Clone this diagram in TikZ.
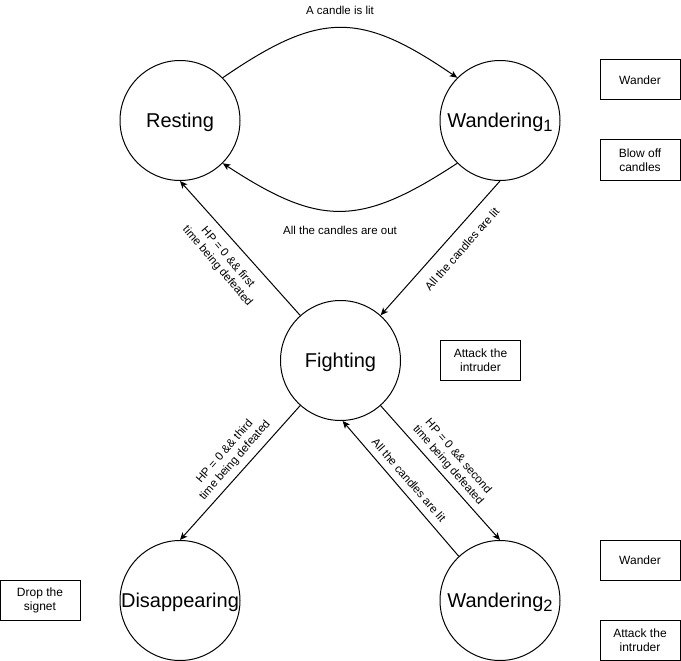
\documentclass[tikz,border=0pt]{standalone}
\usepackage{fontspec}
\setmainfont{Liberation Sans}
\usetikzlibrary{arrows.meta}
\begin{document}
\begin{tikzpicture}[x=1pt,y=-1pt,
  state/.style={circle, draw, line width=1pt, minimum size=120pt, inner sep=0pt, text depth=0pt, font=\fontsize{20}{24}\selectfont},
  act/.style={draw, line width=1pt, minimum width=80pt, minimum height=40pt, inner sep=0pt, align=center, font=\fontsize{12}{14}\selectfont},
  lbl/.style={align=center, inner sep=0pt, font=\fontsize{11.5}{13.5}\selectfont},
  edge/.style={line width=1pt, -{Stealth[length=7.5pt,width=6.5pt,inset=2pt]}}]
\useasboundingbox (0,0) rectangle (681,661);

% states
\node[state] (rest) at (180,120.5) {Resting};
\node[state] (w1) at (500,120.5) {Wandering\raisebox{-4pt}{\fontsize{16.5}{16.5}\selectfont 1}};
\node[state] (fight) at (340.5,360.5) {Fighting};
\node[state] (dis) at (180,600.5) {Disappearing};
\node[state] (w2) at (500,600.5) {Wandering\raisebox{-4pt}{\fontsize{16.5}{16.5}\selectfont 2}};

% activity boxes
\node[act] (a1) at (640,80) {Wander};
\node[act] (a2) at (640,160) {Blow off\\candles};
\node[act] (a3) at (480.5,360.5) {Attack the\\intruder};
\node[act] (a4) at (40,600) {Drop the\\signet};
\node[act] (a5) at (640,560) {Wander};
\node[act] (a6) at (640,640) {Attack the\\intruder};

% transitions
\draw[edge] (rest.45) .. controls (320,11) and (360,11) .. (w1.135);
\draw[edge] (w1.225) .. controls (360,227) and (320,227) .. (rest.315);
\draw[edge] (w1.south) -- (fight);
\draw[edge] (fight) -- (rest.south);
\draw[edge] (fight) -- (dis.north);
\draw[edge] (fight) -- (w2.north);
\draw[edge] (w2.133) -- (fight.-88);

% transition labels
\node[lbl] (l1) at (340,10) {A candle is lit};
\node[lbl] (l2) at (340,230.5) {All the candles are out};
\node[lbl, rotate=48.7] (l3) at (462,249) {All the candles are lit};
\node[lbl, rotate=-49.7] (l4) at (222.5,262) {HP = 0 \&\& first\\time being defeated};
\node[lbl, rotate=49] (l5) at (230,456) {HP = 0 \&\& third\\time being defeated};
\node[lbl, rotate=-49] (l6) at (453,461) {HP = 0 \&\& second\\time being defeated};
\node[lbl, rotate=-49] (l7) at (409,480) {All the candles are lit};
\end{tikzpicture}
\end{document}
